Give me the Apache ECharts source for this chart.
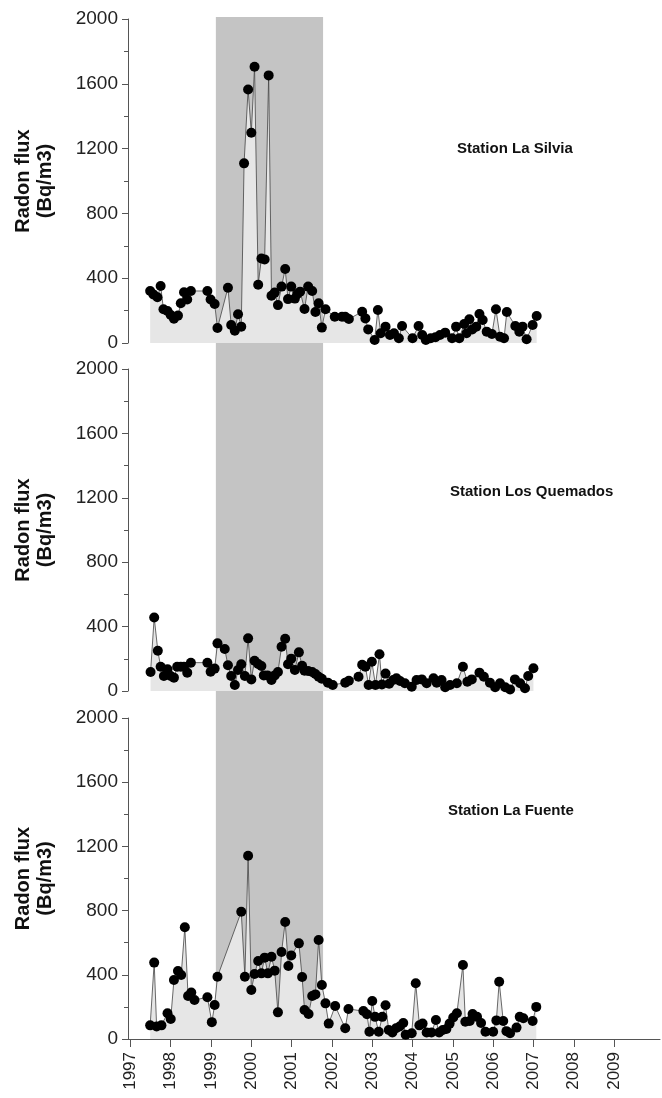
<!DOCTYPE html>
<html>
<head>
<meta charset="utf-8">
<script src="https://cdn.jsdelivr.net/npm/echarts@6/dist/echarts.min.js"></script>
<style>
html,body{margin:0;padding:0;background:#fff;}
#chart{width:662px;height:1098px;}
</style>
</head>
<body>
<div id="chart"></div>
<script>
// ---- data ----
const yearTicks = [1997,1998,1999,2000,2001,2002,2003,2004,2005,2006,2007,2008,2009];
const yTickMax = 2000;
const bandStart = 1999.12;
const bandEnd = 2001.78;

const stationNames = ['Station La Silvia', 'Station Los Quemados', 'Station La Fuente'];

const silviaYears = [1997.49,1997.57,1997.67,1997.75,1997.82,1997.92,1998.00,1998.08,1998.18,1998.25,1998.33,1998.41,1998.50,
  1998.91,1998.99,1999.09,1999.16,1999.42,1999.50,1999.59,1999.67,1999.75,1999.82,1999.92,2000.00,2000.08,2000.17,2000.25,
  2000.33,2000.43,2000.50,2000.58,2000.66,2000.75,2000.84,2000.91,2000.99,2001.08,2001.14,2001.21,2001.32,2001.41,2001.51,
  2001.59,2001.67,2001.75,2001.84,2002.07,2002.25,2002.33,2002.42,2002.75,2002.83,2002.90,2003.06,2003.14,
  2003.21,2003.33,2003.44,2003.54,2003.66,2003.74,2004.00,2004.15,2004.24,2004.33,2004.45,2004.57,2004.68,2004.81,2004.98,
  2005.08,2005.16,2005.28,2005.34,2005.41,2005.48,2005.58,2005.66,2005.74,2005.84,2005.97,2006.07,2006.17,2006.27,2006.34,
  2006.55,2006.65,2006.73,2006.83,2006.98,2007.08];
const silviaValues = [321,300,282,352,208,197,173,150,169,245,313,269,321,
  321,269,241,93,341,111,76,177,101,1109,1565,1298,1705,360,522,
  516,1652,292,311,234,348,457,271,348,274,302,317,210,348,321,
  191,245,95,208,162,162,162,148,193,152,84,19,204,
  60,101,49,60,29,105,29,105,49,19,29,35,49,64,29,
  101,29,117,60,146,84,101,179,142,70,56,208,39,29,191,
  105,70,101,23,111,167];

const quemadosYears = [1997.50,1997.59,1997.68,1997.75,1997.83,1997.92,1998.00,1998.08,1998.16,1998.25,1998.33,1998.41,1998.50,
  1998.91,1998.99,1999.09,1999.16,1999.34,1999.42,1999.50,1999.59,1999.67,1999.75,1999.84,1999.92,2000.00,2000.08,2000.17,
  2000.25,2000.31,2000.40,2000.50,2000.58,2000.66,2000.75,2000.84,2000.91,2000.99,2001.08,2001.18,2001.26,2001.32,2001.41,
  2001.51,2001.59,2001.67,2001.75,2001.90,2002.02,2002.33,2002.42,2002.66,2002.75,2002.83,2002.91,2002.99,2003.08,2003.18,
  2003.24,2003.33,2003.42,2003.52,2003.60,2003.69,2003.81,2003.98,2004.10,2004.23,2004.35,2004.52,2004.60,2004.72,2004.81,
  2004.93,2005.10,2005.25,2005.36,2005.47,2005.66,2005.77,2005.92,2006.05,2006.17,2006.30,2006.42,2006.54,2006.67,2006.79,
  2006.87,2007.00];
const quemadosValues = [118,457,250,151,93,135,93,83,151,151,151,114,176,
  176,120,139,296,261,160,93,37,130,166,93,327,72,188,168,
  155,97,97,68,97,118,275,325,166,201,130,240,157,126,124,
  118,106,89,76,52,37,52,64,89,163,151,37,182,37,228,
  40,108,45,68,79,62,48,27,68,72,48,79,52,68,23,
  37,48,151,58,72,114,89,52,23,48,23,10,72,48,17,
  93,141];

const fuenteYears = [1997.49,1997.59,1997.65,1997.77,1997.92,1998.00,1998.08,1998.18,1998.26,1998.35,1998.43,1998.51,1998.59,
  1998.91,1999.02,1999.09,1999.16,1999.75,1999.84,1999.92,2000.00,2000.08,2000.17,2000.25,2000.33,2000.41,2000.50,2000.58,
  2000.66,2000.75,2000.84,2000.92,2000.99,2001.18,2001.26,2001.32,2001.42,2001.51,2001.59,2001.67,2001.75,2001.84,2001.92,
  2002.08,2002.33,2002.41,2002.78,2002.87,2002.93,2003.00,2003.07,2003.16,2003.25,2003.33,2003.41,2003.50,2003.59,2003.68,
  2003.77,2003.83,2003.98,2004.08,2004.17,2004.25,2004.35,2004.47,2004.58,2004.66,2004.75,2004.84,2004.92,2005.01,2005.10,
  2005.25,2005.31,2005.42,2005.49,2005.60,2005.70,2005.81,2006.00,2006.08,2006.15,2006.25,2006.33,2006.42,2006.58,2006.66,
  2006.75,2006.98,2007.07];
const fuenteValues = [85,476,78,85,160,125,368,424,399,696,268,289,243,
  260,105,212,388,793,388,1142,305,405,486,409,507,409,513,426,
  166,542,729,455,521,596,386,181,156,268,278,617,336,222,96,
  206,67,187,174,154,45,237,138,45,138,210,56,40,67,78,
  100,27,36,347,85,96,40,40,118,40,56,62,96,134,160,
  461,107,112,155,138,100,45,45,116,357,112,49,36,71,138,
  129,112,200];

// ---- layout ----
const xMin = 1996.94, xMax = 2010.14;
const panels = [
  {top: 19, height: 324},
  {top: 369, height: 322},
  {top: 718, height: 321}
];
const font = '"Liberation Sans", Arial, Helvetica, sans-serif';

function pairs(xs, ys){ return xs.map((x,i)=>[x, ys[i]]); }
const seriesData = [pairs(silviaYears, silviaValues), pairs(quemadosYears, quemadosValues), pairs(fuenteYears, fuenteValues)];

const grids = panels.map(p => ({left:128, width:532, top:p.top, height:p.height}));
grids.push({left:128, width:532, top:17, height:1022});

const xAxes = panels.map((p,i) => ({
  gridIndex:i, type:'value', min:xMin, max:xMax,
  show: i === 2,
  axisLine:{show:true, onZero:false, lineStyle:{color:'#555', width:1}},
  axisTick:{show:true, length:8, lineStyle:{color:'#555'}, customValues:yearTicks},
  axisLabel:{show:true, rotate:90, fontSize:17, color:'#222', fontFamily:font, margin:13,
    customValues:yearTicks, formatter: v => String(Math.round(v))},
  splitLine:{show:false}
}));
xAxes.push({gridIndex:3, type:'value', min:xMin, max:xMax, show:false});

const yAxes = panels.map((p,i) => ({
  gridIndex:i, type:'value', min:0, max:yTickMax, interval:400,
  name:'Radon flux\n(Bq/m3)', nameLocation:'middle', nameRotate:90, nameGap:72,
  nameTextStyle:{fontSize:20, fontWeight:'bold', color:'#111', fontFamily:font, lineHeight:22},
  axisLine:{show:true, lineStyle:{color:'#555', width:1}},
  axisTick:{show:true, length:6, lineStyle:{color:'#555'}},
  minorTick:{show:true, splitNumber:2, length:4, lineStyle:{color:'#555'}},
  axisLabel:{fontSize:19, color:'#222', fontFamily:font, margin:10, formatter: v => String(v)},
  splitLine:{show:false}
}));
yAxes.push({gridIndex:3, type:'value', min:0, max:1, show:false});

const series = seriesData.map((d,i) => ({
  type:'line', xAxisIndex:i, yAxisIndex:i, data:d, z:3,
  symbol:'circle', symbolSize:10,
  itemStyle:{color:'#000'},
  lineStyle:{color:'#444', width:0.8},
  areaStyle:{color:'#e6e6e6', opacity:1, origin:'start'},
  silent:true, animation:false
}));
series.unshift({
  type:'line', xAxisIndex:3, yAxisIndex:3, data:[], z:1, animation:false,
  markArea:{silent:true, itemStyle:{color:'#c4c4c4'},
    data:[[{xAxis:bandStart},{xAxis:bandEnd}]]}
});

const labelPos = [{left:457, top:141}, {left:450, top:484}, {left:448, top:803}];
const titles = stationNames.map((t,i) => ({
  text:t, left:labelPos[i].left, top:labelPos[i].top, padding:0,
  textStyle:{fontSize:15, fontWeight:'bold', color:'#111', fontFamily:font}
}));

const chart = echarts.init(document.getElementById('chart'), null, {renderer:'canvas'});
chart.setOption({
  animation:false,
  backgroundColor:'#fff',
  title:titles,
  grid:grids,
  xAxis:xAxes,
  yAxis:yAxes,
  series:series
});
</script>
</body>
</html>
